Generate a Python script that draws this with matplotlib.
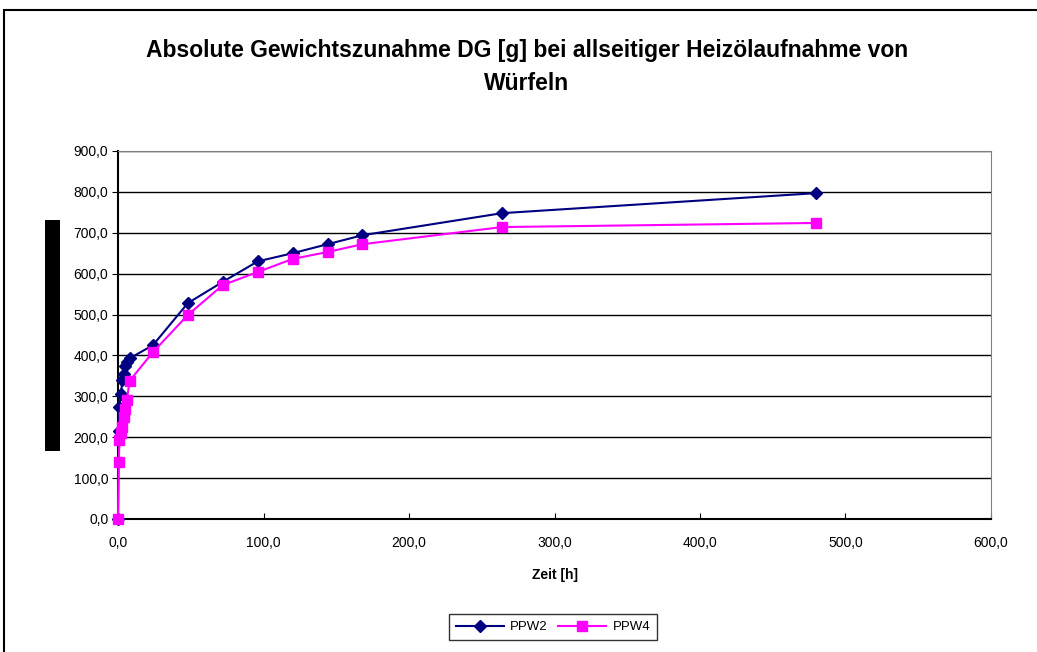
""" Absolute Gewichtszunahme DG - Heizoelaufnahme von Wuerfeln """

import matplotlib
matplotlib.use("Agg")
import matplotlib.pyplot as plt
import matplotlib.patches as patches
from matplotlib.ticker import FuncFormatter, MultipleLocator

# Zeit [h]
zeit = [0, 0.5, 1, 2, 3, 4, 5, 6, 8, 24, 48, 72, 96, 120, 144, 168, 264, 480]
# Gewichtszunahme [g]
ppw2 = [0, 215, 275, 305, 340, 355, 375, 385, 393, 425, 528, 580, 630, 650,
        672, 694, 748, 797]
ppw4 = [0, 140, 193, 210, 225, 250, 270, 290, 338, 408, 499, 572, 604, 636,
        653, 672, 714, 724]
series_names = ["PPW2", "PPW4"]

title = ("Absolute Gewichtszunahme DG [g] bei allseitiger Heizölaufnahme von\n"
         "Würfeln")
xlabel = "Zeit [h]"


def comma(v, pos):
    """ Format with decimal comma """
    return ("%.1f" % v).replace(".", ",")


def main():
    """ Main """
    plt.rcParams["font.family"] = ["Liberation Sans", "DejaVu Sans"]
    W, H = 1037, 652
    fig = plt.figure(figsize=(W / 100, H / 100), dpi=100)
    ax = fig.add_axes([118 / W, 1 - 519 / H, (991 - 118) / W, (519 - 151) / H])

    ax.plot(zeit, ppw2, color="#000080", marker="D", markersize=6,
            linewidth=1.5, label=series_names[0], zorder=3, clip_on=False)
    ax.plot(zeit, ppw4, color="#FF00FF", marker="s", markersize=7,
            linewidth=1.5, label=series_names[1], zorder=4, clip_on=False)

    ax.set_xlim(0, 600)
    ax.set_ylim(0, 900)
    ax.xaxis.set_major_locator(MultipleLocator(100))
    ax.yaxis.set_major_locator(MultipleLocator(100))
    ax.xaxis.set_major_formatter(FuncFormatter(comma))
    ax.yaxis.set_major_formatter(FuncFormatter(comma))
    ax.yaxis.grid(True, color="black", linewidth=1)
    ax.set_axisbelow(True)
    ax.tick_params(axis="x", direction="in", length=4, labelsize=10, pad=12)
    ax.tick_params(axis="y", direction="out", length=4, labelsize=10, pad=3)
    for s in ["top", "right"]:
        ax.spines[s].set_color("#808080")
    for s in ["left", "bottom"]:
        ax.spines[s].set_color("black")
        ax.spines[s].set_linewidth(1.5)

    ax.set_xlabel(xlabel, fontsize=10, fontweight="bold", labelpad=13)
    fig.text(527 / W, 1 - 67 / H, title, ha="center", va="center",
             fontsize=16.5, fontweight="bold", linespacing=1.55)

    ax.legend(loc="center", bbox_to_anchor=(553 / W, 1 - 627 / H),
              bbox_transform=fig.transFigure, ncol=2, frameon=True,
              fancybox=False, edgecolor="black", fontsize=9.5,
              handlelength=3.6, handletextpad=0.5, columnspacing=0.8,
              borderpad=0.5)

    # redacted axis label block
    fig.patches.append(patches.Rectangle((45 / W, 1 - 451 / H), 15 / W,
                                         231 / H, transform=fig.transFigure,
                                         facecolor="black", edgecolor="none"))
    # chart area frame (clipped at right and bottom)
    fig.patches.append(patches.Rectangle((4 / W, -0.1), 1.2, 1.1 - 10 / H,
                                         transform=fig.transFigure,
                                         facecolor="none", edgecolor="black",
                                         linewidth=1.5))

    fig.savefig("out.png", dpi=100)
    return


if __name__ == '__main__':
    main()
